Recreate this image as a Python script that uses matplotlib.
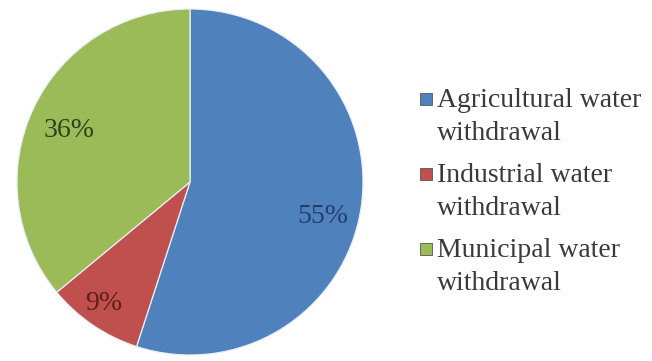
import numpy as np
import matplotlib
matplotlib.use("Agg")
import matplotlib.pyplot as plt
from matplotlib.patches import Rectangle

categories = ["Agricultural water\nwithdrawal", "Industrial water\nwithdrawal", "Municipal water\nwithdrawal"]
values = [55, 9, 36]
colors = ["#4F81BD", "#C0504D", "#9BBB59"]
label_colors = ["#24406a", "#5e1f1d", "#33401c"]
label_dist = [0.78, 0.85, 0.77]
label_shift = [(0.0, -0.08), (-0.02, 0.0), (0.0, -0.03)]

plt.rcParams['font.family'] = ['Liberation Serif', 'DejaVu Serif']

W, H = 652, 361
fig = plt.figure(figsize=(W/100, H/100), dpi=100)
ax = fig.add_axes([17/W, 6/H, 346/W, 346/H])
wedges, _ = ax.pie(values, colors=colors, startangle=90, counterclock=False,
                   wedgeprops=dict(edgecolor="#e8eef5", linewidth=0.9))
for w, v, c, d, s in zip(wedges, values, label_colors, label_dist, label_shift):
    ang = np.deg2rad((w.theta1 + w.theta2) / 2)
    ax.text(d*np.cos(ang) + s[0], d*np.sin(ang) + s[1], f"{v}%", ha="center", va="center",
            fontsize=20, color=c)
ax.set_xlim(-1, 1)
ax.set_ylim(-1, 1)
ax.set_aspect("equal")

# legend (each entry: marker aligned with first line)
entry_base = [107, 182, 257]   # first-line baseline, px from top
line_gap = 33
for lab, col, yb in zip(categories, colors, entry_base):
    fig.add_artist(Rectangle((420/W, 1 - (yb - 2)/H), 12/W, 12/H, transform=fig.transFigure,
                             facecolor=col, edgecolor="#555555", linewidth=0.6))
    for k, line in enumerate(lab.split("\n")):
        fig.text(437/W, 1 - (yb + k*line_gap)/H, line, ha="left", va="baseline",
                 fontsize=20, color="#3a3a3a")
fig.savefig("out.png", dpi=100, facecolor="white")
